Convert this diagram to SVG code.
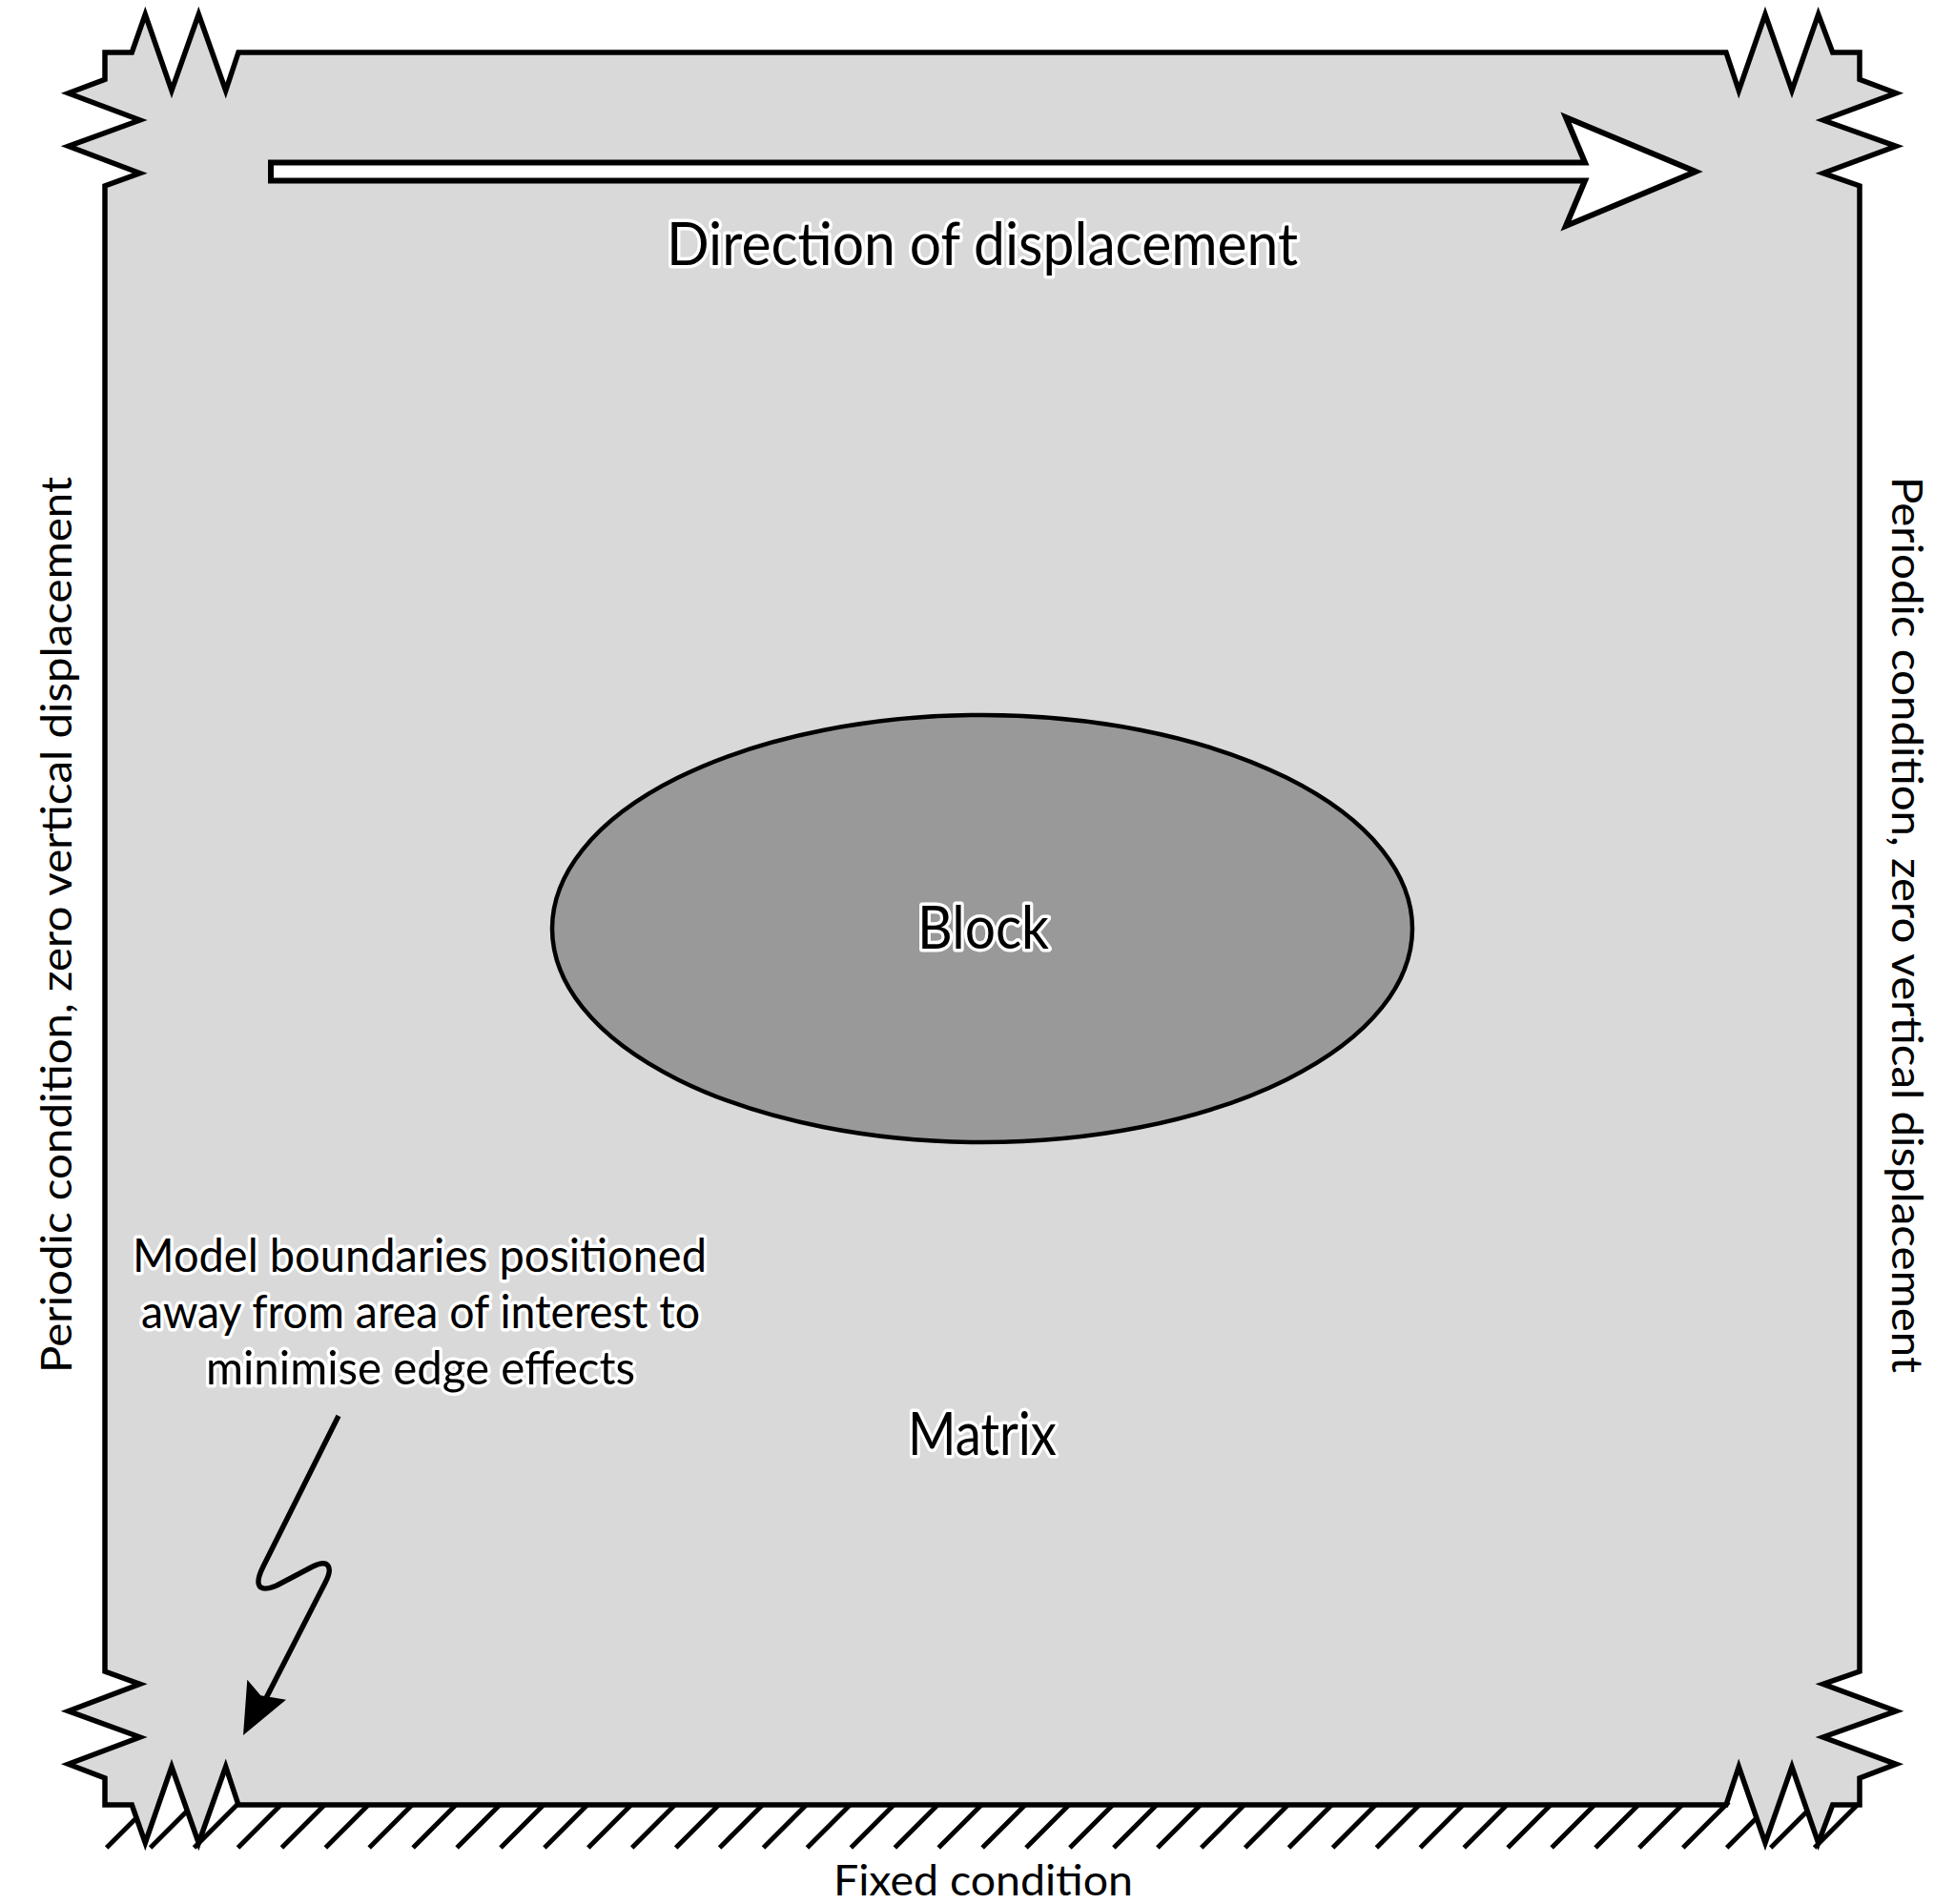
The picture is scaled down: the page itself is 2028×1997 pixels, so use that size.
<svg xmlns="http://www.w3.org/2000/svg" width="2028" height="1997" viewBox="0 0 2028 1997">
<style>
.edge{fill:none;stroke:#000;stroke-width:5;stroke-linecap:butt}
.outline{fill:#d9d9d9;stroke:#000;stroke-width:5.5;stroke-linejoin:miter}
.block{fill:#999999;stroke:#000;stroke-width:4.5}
.bigarrow{fill:#fff;stroke:#000;stroke-width:6;stroke-linejoin:miter}
.halo{font-family:Lato,"Open Sans","DejaVu Sans",sans-serif;fill:#000;stroke:#fff;stroke-width:7;stroke-linejoin:round;paint-order:stroke;text-anchor:middle}
.plain{font-family:Lato,"Open Sans","DejaVu Sans",sans-serif;fill:#000;text-anchor:middle}
.lead{fill:none;stroke:#000;stroke-width:5.5;stroke-linejoin:round}
</style>
<rect width="2028" height="1997" fill="#fff"/>
<g id="fixed-support">
<path class="edge" d="M111.7,1938 l48,-48 M157.6,1938 l48,-48 M203.5,1938 l48,-48 M249.5,1938 l48,-48 M295.4,1938 l48,-48 M341.3,1938 l48,-48 M387.2,1938 l48,-48 M433.1,1938 l48,-48 M479.1,1938 l48,-48 M525,1938 l48,-48 M570.9,1938 l48,-48 M616.8,1938 l48,-48 M662.7,1938 l48,-48 M708.7,1938 l48,-48 M754.6,1938 l48,-48 M800.5,1938 l48,-48 M846.4,1938 l48,-48 M892.3,1938 l48,-48 M938.3,1938 l48,-48 M984.2,1938 l48,-48 M1030.1,1938 l48,-48 M1076,1938 l48,-48 M1121.9,1938 l48,-48 M1167.9,1938 l48,-48 M1213.8,1938 l48,-48 M1259.7,1938 l48,-48 M1305.6,1938 l48,-48 M1351.5,1938 l48,-48 M1397.5,1938 l48,-48 M1443.4,1938 l48,-48 M1489.3,1938 l48,-48 M1535.2,1938 l48,-48 M1581.1,1938 l48,-48 M1627.1,1938 l48,-48 M1673,1938 l48,-48 M1718.9,1938 l48,-48 M1764.8,1938 l48,-48 M1810.7,1938 l48,-48 M1856.7,1938 l48,-48 M1902.6,1938 l45,-45"/>
</g>
<g id="matrix">
<path class="outline" d="M110,55 L138.3,55 L152.3,15 L180,95 L208.3,15 L236.7,95 L250,55 L1810,55 L1823.3,95 L1851,15 L1879,95 L1906.7,15 L1921.7,55 L1950,55 L1950,83.3 L1988.3,97.7 L1911.7,126 L1988.3,153.3 L1911.7,181.7 L1950,195 L1950,1753 L1911.7,1766.3 L1988.3,1794.7 L1911.7,1822 L1988.3,1850.3 L1950,1865 L1950,1893 L1921.7,1893 L1906.7,1933 L1879,1853 L1851,1933 L1823.3,1853 L1810,1893 L250,1893 L236.7,1853 L208.3,1933 L180,1853 L152.3,1933 L138.3,1893 L110,1893 L110,1865 L71.7,1850.3 L146.7,1822 L71.7,1794.7 L146.7,1766.3 L110,1753 L110,195 L146.7,181.7 L71.7,153.3 L146.7,126 L71.7,97.7 L110,83.3 Z"/>
<text class="halo" x="1030" y="1526" font-size="62" textLength="156" lengthAdjust="spacingAndGlyphs">Matrix</text>
</g>
<g id="direction-arrow">
<path class="bigarrow" d="M284,170.5 L1662,170.5 L1642,123 L1778,180 L1642,237 L1662,189.5 L284,189.5 Z"/>
<text class="halo" x="1030" y="278" font-size="62" textLength="662" lengthAdjust="spacingAndGlyphs">Direction of displacement</text>
</g>
<g id="block">
<ellipse class="block" cx="1030" cy="974" rx="451" ry="224"/>
<text class="halo" x="1031" y="995" font-size="62" textLength="138" lengthAdjust="spacingAndGlyphs">Block</text>
</g>
<g id="annotation">
<text class="halo" x="440" y="1334" font-size="49" textLength="602" lengthAdjust="spacingAndGlyphs">Model boundaries positioned</text>
<text class="halo" x="441" y="1393" font-size="49" textLength="586" lengthAdjust="spacingAndGlyphs">away from area of interest to</text>
<text class="halo" x="441" y="1452" font-size="49" textLength="450" lengthAdjust="spacingAndGlyphs">minimise edge effects</text>
</g>
<g id="left-condition">
<text class="plain" transform="translate(75,970) rotate(-90)" font-size="45" textLength="940" lengthAdjust="spacingAndGlyphs">Periodic condition, zero vertical displacement</text>
</g>
<g id="right-condition">
<text class="plain" transform="translate(1984,970) rotate(90)" font-size="45" textLength="940" lengthAdjust="spacingAndGlyphs">Periodic condition, zero vertical displacement</text>
</g>
<g id="bottom-condition">
<text class="plain" x="1031" y="1988" font-size="44" textLength="314" lengthAdjust="spacingAndGlyphs">Fixed condition</text>
</g>
<g id="connectors">
<path class="lead" d="M355,1485 L276,1643 C266,1663 271,1671 290,1663 L328,1643 C344,1635 350,1643 341,1660 L277,1785"/>
<polygon points="255,1820 259.3,1761.7 273.3,1778.3 300,1782.7" fill="#000"/>
</g>
</svg>
